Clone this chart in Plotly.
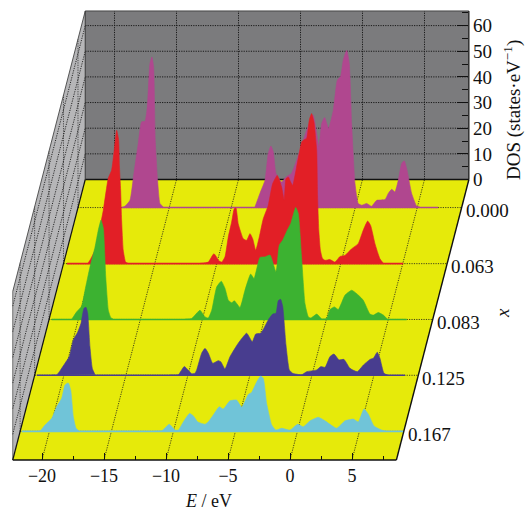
import plotly.graph_objects as go

x_labels = ["0.000", "0.063", "0.083", "0.125", "0.167"]
x_depth = [0.90, 0.70, 0.501, 0.302, 0.102]
colors = ["#b0478f", "#e21f26", "#3cb231", "#483d8f", "#70c4d8"]

E_000 = [-18.84,-18.57,-18.17,-17.85,-17.5,-17.23,-16.96,-16.77,-16.56,-16.4,-16.26,-16.13,-15.94,-15.75,-15.48,-8.09,-7.69,-7.28,-7.02,-6.8,-6.61,-6.4,-5.94,-5.59,-5.13,-4.46,-3.92,-3.39,-3.11,-2.93,-2.71,-2.47,-2.15,-1.77,-1.45,-1.18,-0.97,-0.69,-0.48,-0.29,-0.02,0.24,0.52,0.92,1.32,1.73,2.4,2.66,2.94,3.2,3.47,3.74,3.95,4.15,4.55,4.95,5.21,6.69]
D_000 = [0,0.5,2.8,13.3,25,33.4,33.6,39.2,56.1,58.7,54.8,26.2,10.6,1.6,0.2,0.2,5.5,10.6,21,24,21.7,13.4,10,11.9,13.4,22.3,30.1,36,29,23.6,32.7,35.1,30.8,37.9,49.6,51.2,57.4,61.3,56.1,32.7,9.4,1.6,0.9,1.6,0.5,2.8,3.1,5.5,7.1,6.1,10.6,17.2,18.2,15.2,5.5,0.6,0.2,0.2]

E_063 = [-22.08,-20.4,-20.23,-19.82,-19.5,-19.15,-18.75,-18.48,-18.27,-18.07,-17.91,-17.85,-17.75,-17.67,-17.54,-17.35,-17.14,-11.35,-10.69,-10.23,-9.8,-9.6,-9.34,-9.07,-8.8,-8.59,-8.45,-8.27,-7.86,-7.59,-7.32,-7.1,-6.86,-6.57,-6.25,-5.85,-5.49,-5.12,-4.77,-4.56,-4.42,-4.23,-4.04,-3.88,-3.56,-3.15,-3.02,-2.75,-2.54,-2.35,-2.16,-1.94,-1.87,-1.77,-1.64,-1.48,-1.27,-0.87,-0.47,-0.06,0.34,0.88,1.41,1.81,2.17,2.41,2.76,3.16,3.43,5.04]
D_063 = [0.1,0.1,1.3,5.2,12.2,20.8,33.3,36.4,44.2,52,48.1,38.3,28.6,16.9,5.2,0.6,0.1,0.1,0.6,3.9,1,0.6,2.6,10.4,16.2,21.4,21.7,15.6,9.7,9.1,11.7,9.7,5.2,10.4,17.5,22.7,31.2,34.4,29.9,24.7,33.1,33.8,31.8,30.5,37.7,47.4,48.1,48.9,55.9,58.5,55.2,44.2,26.6,13,5.2,2.1,1.3,1.6,0.6,2.8,3.2,5.8,7.8,13,16.6,14.9,7.8,1.9,0.2,0.1]

E_083 = [-22.15,-20.53,-20.13,-19.73,-19.46,-19.06,-18.65,-18.39,-18.17,-17.98,-17.79,-17.58,-17.39,-17.18,-11.4,-10.85,-10.59,-10.19,-9.78,-9.52,-9.24,-8.84,-8.47,-8.17,-7.9,-7.63,-7.42,-6.96,-6.56,-6.1,-5.83,-5.35,-4.94,-4.54,-4.06,-3.79,-3.52,-3.15,-2.87,-2.47,-2.26,-1.98,-1.72,-1.45,-1.23,-0.77,-0.37,0.03,0.3,0.65,0.97,1.51,2.05,2.58,2.98,3.52,3.79,4.19,4.6,4.92,6.48]
D_083 = [0.1,0.1,3,5.2,11.4,20.5,28.3,34.8,38.7,35.5,16.6,3.6,0.8,0.1,0.1,0.4,1.7,3.6,1,0.6,3.6,12.7,14.9,12.1,7.5,6.5,7.3,4.7,11.4,17.7,16,24.2,24.4,25.1,18.6,29,30.9,34.8,37.4,43.7,41.3,23.1,6.2,1,0.6,2.1,0.2,0.4,3.9,4.9,3.9,9.5,11.4,9.5,7.5,2.1,1.7,2.7,1.7,0.1,0.1]

E_125 = [-22.19,-20.96,-20.58,-20.31,-19.91,-19.56,-19.24,-18.89,-18.62,-18.38,-18.22,-18.08,-17.9,-17.71,-17.49,-11.44,-10.77,-10.29,-9.69,-9.43,-9.29,-8.89,-8.62,-8.35,-8,-7.55,-7.35,-7.01,-6.6,-5.94,-5.26,-4.81,-4.53,-4.13,-3.92,-3.52,-3.16,-2.9,-2.71,-2.52,-2.35,-2.09,-1.82,-1.55,-0.82,-0.42,0.39,0.73,1.06,1.46,1.78,2.19,2.59,3.07,3.66,4.15,4.69,4.95,5.27,5.49,5.81,6.16,7.51]
D_125 = [0.1,0.1,0.1,1.8,4.7,7.3,13.8,16.8,20.3,26.1,26.5,24.2,11.2,2.7,0.2,0.1,0.2,3.4,0.6,0.8,2.1,8.6,10.5,8.6,4.7,5.7,5.3,2.5,7.3,12.5,16.4,13.1,16.1,16.4,17.9,21.6,23.9,24.2,29.1,29.6,26.7,11.8,2.1,0.8,0.2,1.4,2.1,3.4,3.1,7.3,8.3,6,6.2,2.7,1.4,4,6.2,6.6,9,6.6,0.8,0,0]

E_167 = [-22.23,-20.92,-20.76,-20.35,-19.81,-19.41,-19.01,-18.74,-18.48,-18.28,-18.07,-17.85,-17.61,-11.48,-10.94,-10.33,-9.87,-9.6,-9.2,-8.7,-8.4,-8.04,-7.45,-7.19,-6.78,-6.3,-5.98,-5.44,-4.9,-4.49,-3.96,-3.69,-3.28,-2.96,-2.75,-2.48,-2.07,-1.73,-1.27,-0.6,0.02,0.48,1.02,1.69,2.23,3.17,3.84,4.51,4.91,5.37,5.72,6.18,6.8,7.2,8.52]
D_167 = [0,0.1,0.1,2.5,5.1,9.6,12.9,18.1,18.9,16.1,5.7,1.2,0.1,0.1,0.2,2.8,0.5,0.5,3.7,7,6.1,3.7,2.8,3.7,6.4,9.6,8.7,11.9,12.2,9.4,14.4,15.2,19.3,21.6,20.7,10.9,2.5,0.5,1.2,0.5,2.8,1.8,4.1,5.5,4.1,1.2,4.1,4.8,3.7,8.7,6.7,2.1,0.5,0,0]

series_E = [E_000, E_063, E_083, E_125, E_167]
series_D = [D_000, D_063, D_083, D_125, D_167]

E_ticks = [-20, -15, -10, -5, 0, 5]
E_minor = [-17.5, -12.5, -7.5, -2.5, 2.5, 7.5]
DOS_ticks = [0, 10, 20, 30, 40, 50, 60]
DOS_minor = [5, 15, 25, 35, 45, 55, 65]
E_min, E_max = -22.36, 8.58
DOS_top = 65.7

W, H = 529, 512
PX_E, PX_D = 12.4, 2.565
SHIFT, RISE = 72.5 / PX_E, 280.5 / PX_D   # oblique projection of the depth axis


def px(E, dos, d):
    return E + SHIFT * d


def py(E, dos, d):
    return dos - RISE * (1 - d)


def proj(points):
    return [px(*p) for p in points], [py(*p) for p in points]


fig = go.Figure()


def poly(points, color):
    xs, ys = proj(points)
    fig.add_trace(go.Scatter(x=xs, y=ys, mode="lines", fill="toself", fillcolor=color,
                             line=dict(width=0), hoverinfo="skip", showlegend=False))


def seg(a, b, color="#000000", width=1.0, dash="solid"):
    xs, ys = proj([a, b])
    fig.add_trace(go.Scatter(x=xs, y=ys, mode="lines", line=dict(color=color, width=width, dash=dash),
                             hoverinfo="skip", showlegend=False))


def blocks(E, D, gap=1.0):
    """Split a curve at its long flat stretches so the spline does not bulge there."""
    out, cur = [], [(E[0], D[0])]
    for e, v in zip(E[1:], D[1:]):
        if e - cur[-1][0] > gap:
            out.append(cur)
            cur = []
        cur.append((e, v))
    out.append(cur)
    return [b for b in out if len(b) > 2]


GRID = "#1a1a1a"
WALL_DASH = "1.2px,1.2px"
poly([(E_min, 0, 1), (E_max, 0, 1), (E_max, DOS_top, 1), (E_min, DOS_top, 1)], "#7b7b7d")
poly([(E_min, 0, 0), (E_min, 0, 1), (E_min, DOS_top, 1), (E_min, DOS_top, 0)], "#b6b6b8")
poly([(E_min, 0, 0), (E_max, 0, 0), (E_max, 0, 1), (E_min, 0, 1)], "#e6ea0a")

for k in DOS_ticks[1:]:
    seg((E_min, k, 1), (E_max, k, 1), GRID, 1.0, WALL_DASH)
    seg((E_min, k, 0), (E_min, k, 1), GRID, 0.9, WALL_DASH)
for d in x_depth:
    seg((E_min, 0, d), (E_min, DOS_top, d), GRID, 0.7, WALL_DASH)
for e in E_ticks:
    seg((e, 0, 1), (e, DOS_top, 1), GRID, 1.0, WALL_DASH)
    seg((e, 0, 0), (e, 0, 1), GRID, 0.8, WALL_DASH)
for d in x_depth:
    seg((E_min, 0, d), (E_max, 0, d), GRID, 0.8, WALL_DASH)

# floor / wall edges
seg((E_min, 0, 1), (E_max, 0, 1), "#111111", 1.6)
seg((E_min, 0, 1), (E_min, DOS_top, 1), "#333333", 1.0)
seg((E_min, DOS_top, 1), (E_max, DOS_top, 1), "#444444", 1.0)
seg((E_max, 0, 1), (E_max, DOS_top, 1), "#111111", 1.2)
seg((E_min, DOS_top, 0), (E_min, DOS_top, 1), "#333333", 0.8)
seg((E_min, 0, 0), (E_min, DOS_top, 0), "#555555", 0.8)
seg((E_min, 0, 0), (E_min, 0, 1), "#111111", 1.2)
seg((E_max, 0, 0), (E_max, 0, 1), "#111111", 1.4)
seg((E_min, 0, 0), (E_max, 0, 0), "#111111", 1.6)

for E, D, d, c in zip(series_E, series_D, x_depth, colors):
    for block in blocks(E, D):
        xs, ys = proj([(e, v, d) for e, v in block])
        fig.add_trace(go.Scatter(x=xs, y=ys, mode="lines", fill="toself", fillcolor=c,
                                 line=dict(color=c, width=0.6, shape="spline", smoothing=0.45),
                                 hoverinfo="skip", showlegend=False))
    seg((E[0], 0, d), (E[-1], 0, d), c, 1.6)

serif = dict(family="Liberation Serif", size=19, color="#111111")
small = dict(family="Liberation Serif", size=18, color="#111111")
annos = []
for lab, d in zip(x_labels, x_depth):
    annos.append(dict(x=px(E_max, 0, d), y=py(E_max, 0, d), xref="x", yref="y", text=lab, showarrow=False,
                      xanchor="left", yanchor="middle", xshift=2, yshift=-3, font=serif))
for text, cx, cy, angle, f in [("<i>E</i> / eV", 208, 501, 0, small), ("<i>x</i>", 502, 313, -90, serif),
                               ("DOS (states·eV<sup>−1</sup>)", 512, 110, -90, serif)]:
    annos.append(dict(x=cx / W, y=1 - cy / H, xref="paper", yref="paper", showarrow=False, text=text,
                      textangle=angle, xanchor="center", yanchor="middle", font=f))

fig.update_layout(
    width=W, height=H, margin=dict(l=0, r=0, t=0, b=0), autosize=False,
    paper_bgcolor="white", plot_bgcolor="white", showlegend=False,
    annotations=annos,
    font=serif,
    xaxis=dict(range=[-290 / PX_E, (W - 290) / PX_E], domain=[0, 1], anchor="free",
               position=(H - 460) / H, showgrid=False, zeroline=False, showline=False,
               tickmode="array", tickvals=E_ticks, ticks="inside", ticklen=7, tickwidth=1.3,
               tickcolor="#111111", ticklabelstandoff=3, tickfont=small,
               minor=dict(tickmode="array", tickvals=E_minor, ticks="inside", ticklen=4,
                          tickwidth=1.2, tickcolor="#111111", showgrid=False),
               fixedrange=True),
    yaxis=dict(range=[(179.5 - H) / PX_D, 179.5 / PX_D], domain=[0, 1], anchor="free", side="right",
               position=468 / W, showgrid=False, zeroline=False, showline=False,
               tickmode="array", tickvals=DOS_ticks, ticks="inside", ticklen=11, tickwidth=1.3,
               tickcolor="#111111", ticklabelstandoff=4, tickfont=serif,
               minor=dict(tickmode="array", tickvals=DOS_minor, ticks="inside", ticklen=6,
                          tickwidth=1.2, tickcolor="#111111", showgrid=False),
               fixedrange=True),
)

fig.write_html("out.html", config={"displayModeBar": False},
               post_script="document.body.style.margin='0';")
